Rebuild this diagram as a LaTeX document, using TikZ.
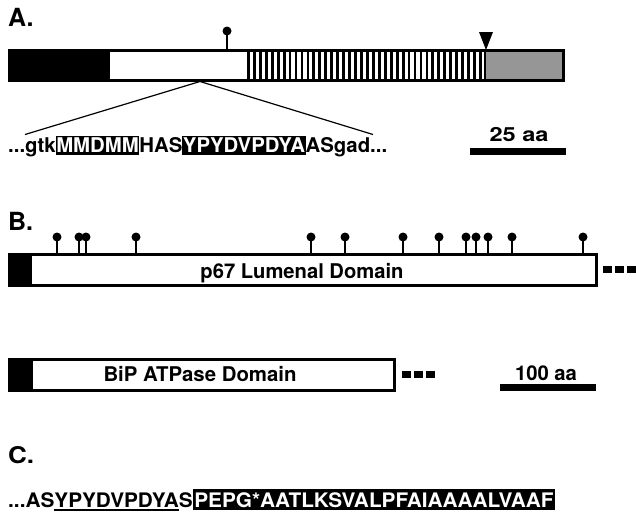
\documentclass[tikz,border=0pt]{standalone}
\usepackage{fontspec}
\setmainfont{TeX Gyre Heros}
\usepackage{graphicx}
\newcommand\fitw[2]{\resizebox{#1}{\height}{#2}}
\newcommand\hla[1]{{\setlength{\fboxsep}{0pt}\colorbox{black}{\color{white}\rule[-2.5pt]{0pt}{18.5pt}\kern0.5pt#1\kern0.5pt}}}
\newcommand\hlc[1]{{\setlength{\fboxsep}{0pt}\colorbox{black}{\color{white}\rule[-3pt]{0pt}{21pt}\kern1.5pt#1\kern1.5pt}}}
\newcommand\ulc[1]{\setbox0\hbox{#1}\rlap{\rule[-4.3pt]{\wd0}{1.9pt}}\box0}
\definecolor{segGray}{HTML}{969696}
\begin{document}
\begin{tikzpicture}[x=1pt,y=-1pt,
  lbl/.style={inner sep=0pt, font=\bfseries},
  barline/.style={line width=3pt},
  pinstem/.style={line width=2pt},
  thinline/.style={line width=1.2pt},
  sbar/.style={fill=black}]
\useasboundingbox (0,0) rectangle (636,512);

% ---------- Panel A ----------
\node[lbl, anchor=base west, font=\bfseries\fontsize{25}{25}\selectfont] (labA) at (8,26) {A.};
\fill[black] (8,50) rectangle (110,80);
\fill[segGray] (485,50) rectangle (565,80);
\foreach \i in {0,...,39} \fill (247+\i*5.95,50) rectangle ++(2.8,30);
\draw[barline] (9.5,50) rectangle (563.5,80);
\draw[line width=2pt] (485,50) -- (485,80);
\draw[pinstem] (227,49) -- (227,32);
\fill (227,31) circle (4.5);
\fill (479,32) -- (493,32) -- (486,50) -- cycle;
\coordinate (zA) at (200,81.5);
\coordinate (zL) at (25,134.5);
\coordinate (zR) at (373,134.5);
\draw[thinline] (zL) -- (zA) -- (zR);
\node[lbl, anchor=base west] (seqA) at (8,152)
  {\fitw{379pt}{\bfseries\fontsize{20.3}{20.3}\selectfont ...gtk\hla{MMDMM}HAS\hla{YPYDVPDYA}ASgad...}};
\fill[sbar] (470,147.5) rectangle (566,154.5);
\node[lbl, anchor=base] (scaleA) at (519,141.5)
  {\fitw{59pt}{\bfseries\fontsize{19.5}{19.5}\selectfont 25 aa}};

% ---------- Panel B ----------
\node[lbl, anchor=base west, font=\bfseries\fontsize{25}{25}\selectfont] (labB) at (8,230) {B.};
\fill[black] (8,254) rectangle (32,285);
\draw[barline] (9.5,254) rectangle (596.5,285);
\foreach \x in {57,79,86,136,311,345,403,439,466,476,488,512,583} {
  \draw[pinstem] (\x,253) -- (\x,238);
  \fill (\x,237) circle (4.5);
}
\node[lbl, anchor=base] (p67) at (302,278)
  {\fitw{203pt}{\bfseries\fontsize{20.3}{20.3}\selectfont p67 Lumenal Domain}};
\foreach \x in {603,615,627} \fill (\x,266) rectangle ++(9,7);

\fill[black] (8,359) rectangle (32.5,390.5);
\draw[barline] (9.5,359) rectangle (394.5,390.5);
\node[lbl, anchor=base] (bip) at (200,381.5)
  {\fitw{193pt}{\bfseries\fontsize{20.3}{20.3}\selectfont BiP ATPase Domain}};
\foreach \x in {402,414,426} \fill (\x,371) rectangle ++(9,7);
\fill[sbar] (500,383.5) rectangle (595.5,390.5);
\node[lbl, anchor=base] (scaleB) at (546,380)
  {\fitw{62pt}{\bfseries\fontsize{20.3}{20.3}\selectfont 100 aa}};

% ---------- Panel C ----------
\node[lbl, anchor=base west] (labC) at (8,463)
  {\fitw{26pt}{\bfseries\fontsize{23}{23}\selectfont C.}};
\node[lbl, anchor=base west] (seqC) at (8,507)
  {\fitw{547pt}{\bfseries\fontsize{20}{20}\selectfont ...AS\ulc{YPYDVPDYA}S\hlc{PEPG*AATLKSVALPFAIAAAALVAAF}}};
\end{tikzpicture}
\end{document}
